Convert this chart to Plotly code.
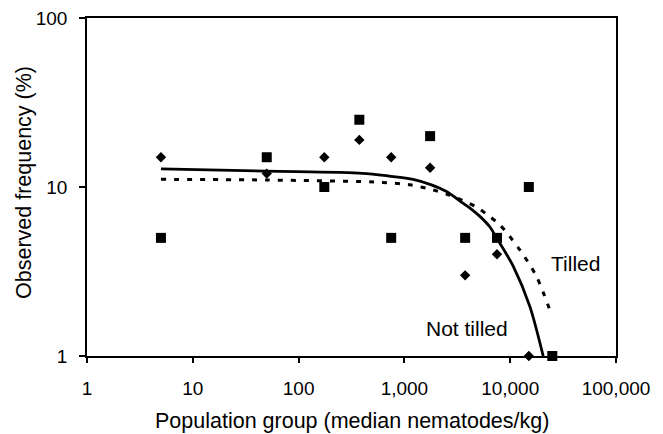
import plotly.graph_objects as go
import math

pop_groups = [5, 50, 175, 375, 750, 1750, 3750, 7500, 15000, 25000]
square_freq = [5, 15, 10, 25, 5, 20, 5, 5, 10, 1]
diamond_x = [5, 50, 175, 375, 750, 1750, 3750, 7500, 15000]
diamond_freq = [15, 12, 15, 19, 15, 13, 3, 4, 1]

# Fitted curves
not_tilled_x = [5, 50, 400, 720, 1210, 1800, 2500, 3600, 4170, 5170, 6430, 7440, 10670, 15350, 20500]
not_tilled_y = [12.8, 12.4, 12.05, 11.6, 11.1, 10.3, 9.4, 8.0, 7.5, 6.7, 5.8, 5.0, 3.4, 1.96, 1.0]
tilled_x = [5, 50, 620, 1130, 1875, 2600, 3300, 4820, 5980, 8000, 12360, 17740, 24600]
tilled_y = [11.1, 11.0, 10.65, 10.3, 9.6, 9.0, 8.5, 7.6, 6.9, 5.96, 4.24, 2.95, 1.75]

x_tickvals = [1, 10, 100, 1000, 10000, 100000]
x_ticktext = ["1", "10", "100", "1,000", "10,000", "100,000"]
y_tickvals = [1, 10, 100]
y_ticktext = ["1", "10", "100"]

FONT = "Liberation Sans, Arial, sans-serif"
W, H = 663, 434
ML, MR, MT, MB = 87, 47, 18, 78
PW, PH = W - ML - MR, H - MT - MB


def px_to_paper(px, py):
    return (px - ML) / PW, (H - MB - py) / PH


fig = go.Figure()
fig.add_trace(go.Scatter(x=not_tilled_x, y=not_tilled_y, mode="lines",
                         line=dict(color="black", width=2.8, shape="spline", smoothing=0.8),
                         showlegend=False))
fig.add_trace(go.Scatter(x=tilled_x, y=tilled_y, mode="lines",
                         line=dict(color="black", width=3, dash="5px,8px", shape="spline", smoothing=0.8),
                         showlegend=False))
fig.add_trace(go.Scatter(x=diamond_x, y=diamond_freq, mode="markers",
                         marker=dict(symbol="diamond", size=8, color="black"),
                         showlegend=False, cliponaxis=False))
fig.add_trace(go.Scatter(x=pop_groups, y=square_freq, mode="markers",
                         marker=dict(symbol="square", size=10, color="black"),
                         showlegend=False, cliponaxis=False))

xt_x, xt_y = px_to_paper(352, 421)
yt_x, yt_y = px_to_paper(24, 183)

fig.update_layout(
    width=W, height=H,
    margin=dict(l=ML, r=MR, t=MT, b=MB),
    paper_bgcolor="white", plot_bgcolor="white",
    font=dict(family=FONT, color="black", size=19),
    xaxis=dict(type="log", range=[0, 5], tickvals=x_tickvals, ticktext=x_ticktext,
               ticks="outside", ticklen=5, tickcolor="black", tickwidth=1.5,
               showline=True, linecolor="black", linewidth=1.5, mirror=True,
               showgrid=False, zeroline=False, ticklabelstandoff=9,
               automargin=False, tickfont=dict(size=19)),
    yaxis=dict(type="log", range=[0, 2], tickvals=y_tickvals, ticktext=y_ticktext,
               ticks="outside", ticklen=6, tickcolor="black", tickwidth=1.5,
               showline=True, linecolor="black", linewidth=1.5, mirror=True,
               showgrid=False, zeroline=False, ticklabelstandoff=8,
               automargin=False, tickfont=dict(size=19)),
    annotations=[
        dict(text="Tilled", x=math.log10(41700), y=math.log10(3.55), xref="x", yref="y",
             xanchor="center", yanchor="middle", showarrow=False, font=dict(size=21)),
        dict(text="Not tilled", x=math.log10(3900), y=math.log10(1.46), xref="x", yref="y",
             xanchor="center", yanchor="middle", showarrow=False, font=dict(size=21)),
        dict(text="Population group (median nematodes/kg)", x=xt_x, y=xt_y,
             xref="paper", yref="paper", xanchor="center", yanchor="middle",
             showarrow=False, font=dict(size=21.5)),
        dict(text="Observed frequency (%)", x=yt_x, y=yt_y, textangle=-90,
             xref="paper", yref="paper", xanchor="center", yanchor="middle",
             showarrow=False, font=dict(size=21.5)),
    ],
)

fig.write_html("out.html", config={"displayModeBar": False},
               post_script="document.body.style.margin='0px';document.body.style.overflow='hidden';")
